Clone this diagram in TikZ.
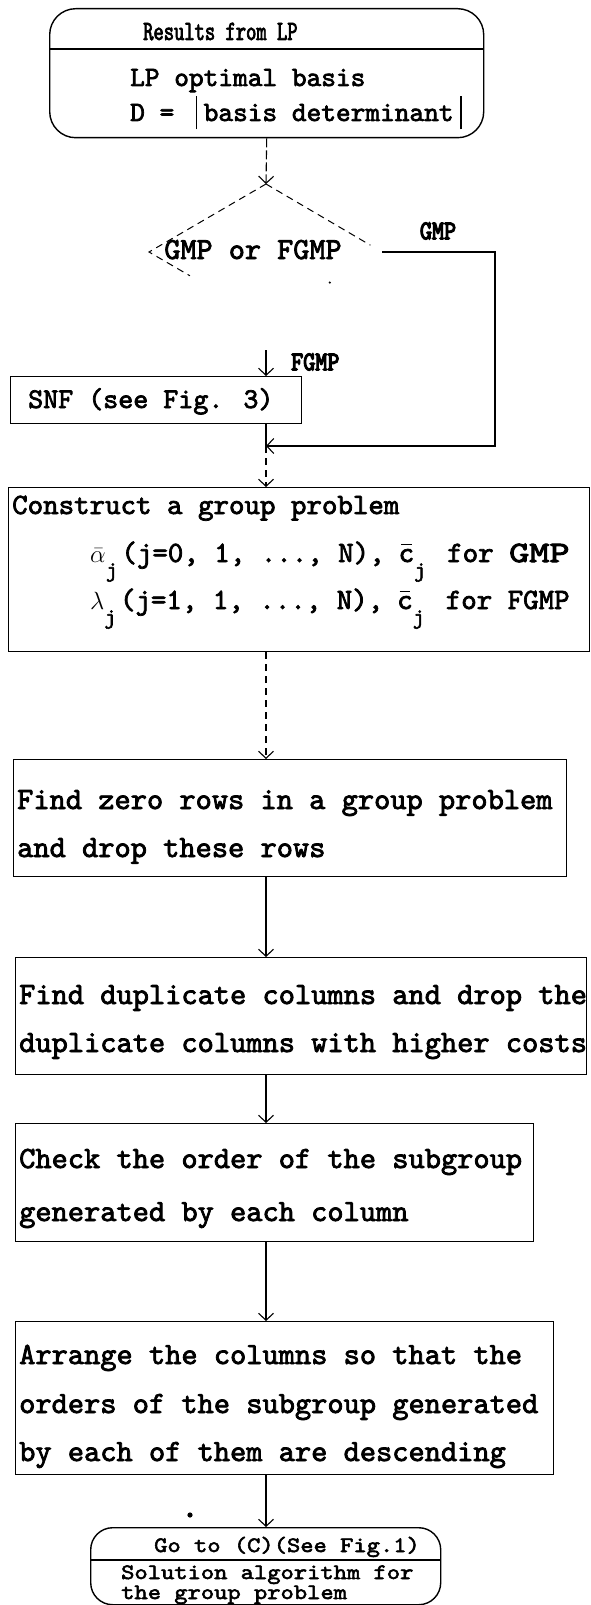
\documentclass[tikz,border=0pt]{standalone}
\usepackage{fontspec}
\usetikzlibrary{arrows.meta,calc}
\newfontfamily\tw{lmmono10-regular.otf}[FakeBold=2.5]
\newfontfamily\twc{lmmono10-regular.otf}[FakeBold=2.5,FakeStretch=0.7]
\newfontfamily\twb{lmmono10-regular.otf}[FakeBold=4.5,FakeStretch=0.85]
\newfontfamily\twwide{lmmono10-regular.otf}[FakeBold=3.5,FakeStretch=1.3]
\newfontfamily\tws{lmmono10-regular.otf}[FakeBold=2.5,FakeStretch=1.15]
\newcommand\absbar{\makebox[0.525em]{\raisebox{-0.3em}{\rule{1.4pt}{1.2em}}}}
\newcommand\subj{\raisebox{-0.5em}{\fontsize{22}{22}\selectfont j}}
\newcommand\cbar{\makebox[0.525em][l]{\rlap{\hspace{0.08em}\raisebox{0.58em}{\rule{0.36em}{1.3pt}}}c}}
\begin{document}
\begin{tikzpicture}[x=1pt,y=-1pt,
  frame/.style={draw, line width=1.4pt, inner sep=0pt, anchor=north west},
  term/.style={frame, rounded corners=26pt},
  conn/.style={line width=1.1pt, -{Straight Barb[length=7pt,width=15pt,line width=1.1pt]}},
  plain/.style={line width=1.2pt},
  dline/.style={line width=1pt, dash pattern=on 7pt off 5pt},
  body/.style={anchor=base west, inner sep=0pt, font=\tw\fontsize{30.9}{30.9}\selectfont},
  gbody/.style={anchor=base west, inner sep=0pt, font=\tw\fontsize{29.5}{29.5}\selectfont},
  small/.style={anchor=base west, inner sep=0pt, font=\tw\fontsize{28}{28}\selectfont},
  hdr/.style={anchor=base west, inner sep=0pt, font=\twc\fontsize{28}{28}\selectfont},
  tsmall/.style={anchor=base west, inner sep=0pt, font=\tws\fontsize{22}{22}\selectfont},
  dtext/.style={inner sep=0pt, font=\tw\fontsize{30.7}{30.7}\selectfont},
  lab/.style={inner sep=0pt, font=\twb\fontsize{27}{27}\selectfont},
]
\useasboundingbox (0,0) rectangle (591,1605);
\fill[white] (0,0) rectangle (591,1605);

% top terminator
\node[term, minimum width=434pt, minimum height=129pt] (t0) at (49,8) {};
\draw[plain] (t0.north west |- 0,49) -- (t0.north east |- 0,49);
\node[hdr] (t0h) at (143,40) {Results from LP};
\node[small] (t0a) at (130,86) {LP optimal basis};
\node[small] (t0b) at (130,121) {D = \absbar basis determinant\absbar};

% decision
\coordinate (dtop) at (266,184);
\coordinate (dleft) at (149,252);
\coordinate (dright) at (382,252);
\coordinate (dbot) at (266,320);
\node[dtext, anchor=base] (dq) at (253,259) {GMP or FGMP};
\draw[conn, dash pattern=on 9pt off 3pt] (t0.south) -- (dtop);
\draw[dline] (dtop) -- (dleft) -- ($(dleft)!0.35!(dbot)$);
\draw[dline] (dtop) -- ($(dtop)!0.9!(dright)$);
\fill ($(dbot)!0.55!(dright)$) circle (1.2pt);

% GMP loop
\coordinate (m) at (266,446);
\coordinate (gr) at (495,0);
\draw[conn] (dright) -- (dright -| gr) |- (m);
\node[lab] (lg) at (438,231) {GMP};

% FGMP branch
\coordinate (f0) at (266,350);
\node[frame, minimum width=291pt, minimum height=47pt] (snf) at (10,376) {};
\draw[conn] (f0) -- (f0 |- snf.north);
\node[lab, anchor=west] (lf) at (291,362) {FGMP};
\node[body, font=\tw\fontsize{28.6}{28.6}\selectfont] (snft) at (28,408) {SNF (see Fig. 3)};
\draw[plain] (snf.south -| m) -- (m);

% group problem
\node[frame, minimum width=581pt, minimum height=164pt] (grp) at (8,487) {};
\draw[conn, dash pattern=on 7pt off 5pt] (m) -- (m |- grp.north);
\node[gbody] (g1) at (12,514) {Construct a group problem};
\node[gbody] (g2) at (90,562) {$\bar{\alpha}$\subj\hspace{4pt}(j=0, 1, ..., N),\hspace{14pt}\cbar\subj\hspace{6pt} for {\twwide GMP}};
\node[gbody] (g3) at (90,609) {$\lambda$\subj\hspace{4pt}(j=1, 1, ..., N),\hspace{14pt}\cbar\subj\hspace{6pt} for FGMP};

% box 1
\node[frame, minimum width=553pt, minimum height=117pt] (b1) at (13,759) {};
\draw[conn, dash pattern=on 7pt off 5pt] (grp.south -| m) -- (m |- b1.north);
\node[body] (b1a) at (17,809) {Find zero rows in a group problem};
\node[body] (b1b) at (17,857) {and drop these rows};

% box 2
\node[frame, minimum width=571pt, minimum height=117pt] (b2) at (15,957) {};
\draw[conn] (b1.south -| m) -- (m |- b2.north);
\node[body] (b2a) at (19,1004) {Find duplicate columns and drop the};
\node[body] (b2b) at (19,1052) {duplicate columns with higher costs};

% box 3
\node[frame, minimum width=518pt, minimum height=118pt] (b3) at (15,1123) {};
\draw[conn] (b2.south -| m) -- (m |- b3.north);
\node[body] (b3a) at (19,1168) {Check the order of the subgroup};
\node[body] (b3b) at (19,1221) {generated by each column};

% box 4
\node[frame, minimum width=538pt, minimum height=153pt] (b4) at (15,1321) {};
\draw[conn] (b3.south -| m) -- (m |- b4.north);
\node[body] (b4a) at (19,1364) {Arrange the columns so that the};
\node[body] (b4b) at (19,1413) {orders of the subgroup generated};
\node[body] (b4c) at (19,1461) {by each of them are descending};

\fill (190,1515) circle (2.6pt);

% bottom terminator
\node[term, rounded corners=22pt, minimum width=350pt, minimum height=77pt] (t1) at (90,1527) {};
\draw[conn] (b4.south -| m) -- (m |- t1.north);
\draw[plain] (t1.north west |- 0,1560) -- (t1.north east |- 0,1560);
\node[tsmall] (t1h) at (154,1552) {Go to (C)(See Fig.1)};
\node[tsmall] (t1a) at (121,1579) {Solution algorithm for};
\node[tsmall] (t1b) at (121,1599) {the group problem};
\end{tikzpicture}
\end{document}
